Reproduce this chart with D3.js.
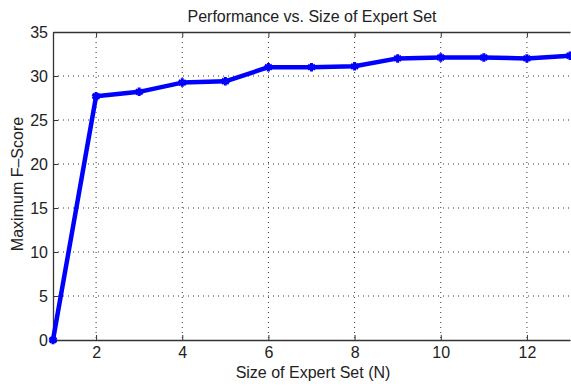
<!DOCTYPE html>
<html>
<head>
<meta charset="utf-8">
<script src="https://d3js.org/d3.v7.min.js"></script>
<style>
  body { margin: 0; background: #fff; }
  text { font-family: "Liberation Sans", Arial, sans-serif; fill: #222; }
</style>
</head>
<body>
<div id="graphic"></div>
<script>
// data
const expertSetSize = [1, 2, 3, 4, 5, 6, 7, 8, 9, 10, 11, 12, 13];
const maxFScore = [0, 27.7, 28.2, 29.25, 29.4, 31.0, 31.0, 31.1, 32.0, 32.1, 32.1, 32.0, 32.3];
const xTicks = [2, 4, 6, 8, 10, 12];
const yTicks = [0, 5, 10, 15, 20, 25, 30, 35];

const margin = {top: 32, right: 1, bottom: 46, left: 53};
const width = 571 - margin.left - margin.right;
const height = 386 - margin.top - margin.bottom;

const svg = d3.select("#graphic")
    .append("svg")
    .attr("width", 571)
    .attr("height", 386);

const g = svg.append("g")
    .attr("transform", `translate(${margin.left}, ${margin.top})`);

const x = d3.scaleLinear().domain([1, 13]).range([0, width]);
const y = d3.scaleLinear().domain([0, 35]).range([height, 0]);

// dotted grid
g.append("g")
    .selectAll("line")
    .data(xTicks)
    .join("line")
    .attr("x1", d => x(d)).attr("x2", d => x(d))
    .attr("y1", 0).attr("y2", height)
    .style("stroke", "#333")
    .style("stroke-width", 1)
    .style("stroke-dasharray", "1,4");

g.append("g")
    .selectAll("line")
    .data(yTicks.slice(1, -1))
    .join("line")
    .attr("x1", 0).attr("x2", width)
    .attr("y1", d => y(d)).attr("y2", d => y(d))
    .style("stroke", "#333")
    .style("stroke-width", 1)
    .style("stroke-dasharray", "1,4");

// axes, ticks pointing inward like matlab
const xAxis = g.append("g")
    .attr("transform", `translate(0, ${height})`)
    .call(d3.axisBottom(x).tickValues(xTicks).tickSizeInner(-5).tickSizeOuter(0).tickPadding(7));

const xAxisTop = g.append("g")
    .call(d3.axisTop(x).tickValues(xTicks).tickSizeInner(-5).tickSizeOuter(0).tickFormat(""));

const yAxis = g.append("g")
    .call(d3.axisLeft(y).tickValues(yTicks).tickSizeInner(-5).tickSizeOuter(0).tickPadding(5));

[xAxis, xAxisTop, yAxis].forEach(a => {
    a.selectAll("path").style("stroke", "#333").style("stroke-width", 1.3);
    a.selectAll("line").style("stroke", "#333");
    a.selectAll("text").style("font-size", "16px").style("fill", "#222");
});

// line
const line = d3.line()
    .x((d, i) => x(expertSetSize[i]))
    .y(d => y(d));

g.append("path")
    .datum(maxFScore)
    .attr("fill", "none")
    .attr("stroke", "#0000ff")
    .attr("stroke-width", 4.5)
    .attr("stroke-linejoin", "round")
    .attr("d", line);

// asterisk markers
const star = d3.symbol().type(d3.symbolAsterisk).size(50);
g.append("g")
    .selectAll("path")
    .data(maxFScore)
    .join("path")
    .attr("d", star)
    .attr("transform", (d, i) => `translate(${x(expertSetSize[i])}, ${y(d)})`)
    .style("stroke", "#0000ff")
    .style("stroke-width", 3)
    .style("fill", "#0000ff");

// labels
svg.append("text")
    .attr("x", 312)
    .attr("y", 22)
    .attr("text-anchor", "middle")
    .style("font-size", "16px")
    .text("Performance vs. Size of Expert Set");

svg.append("text")
    .attr("x", 313)
    .attr("y", 378)
    .attr("text-anchor", "middle")
    .style("font-size", "16px")
    .text("Size of Expert Set (N)");

svg.append("text")
    .attr("transform", "translate(23, 184) rotate(-90)")
    .attr("text-anchor", "middle")
    .style("font-size", "16px")
    .text("Maximum F\u2013Score");
</script>
</body>
</html>
